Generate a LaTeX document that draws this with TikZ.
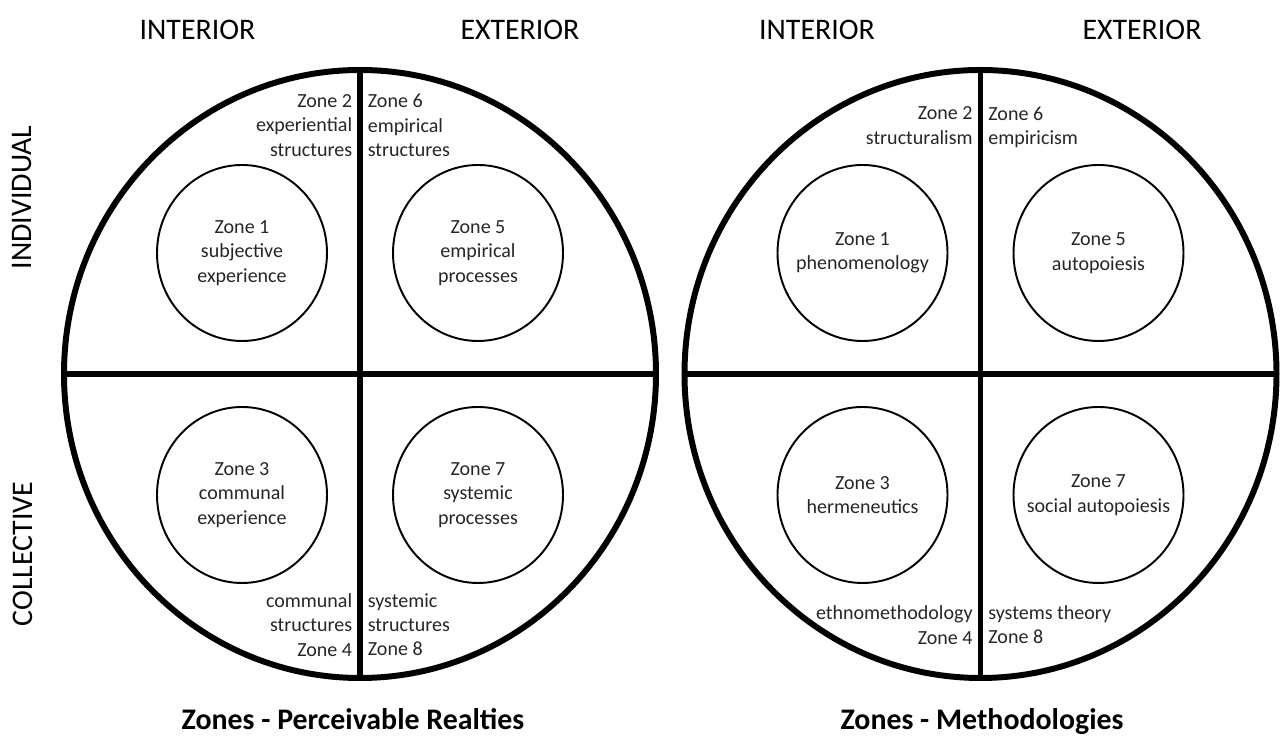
\documentclass[tikz,border=0pt]{standalone}
\usepackage{fontspec}
\setmainfont{Carlito}
\usepackage{tikz}
\usetikzlibrary{shapes.geometric}

\tikzset{
  disc/.style={draw,ellipse,line width=3.4pt,inner sep=0pt,outer sep=0pt,
    minimum width=11.84cm,minimum height=12.16cm},
  divider/.style={line width=3.4pt},
  zone/.style={draw,ellipse,line width=1.1pt,minimum width=3.4cm,minimum height=3.52cm,inner sep=0pt},
  zonetext/.style={inner sep=0pt,align=center,font=\fontsize{11.4}{13.9}\selectfont,text=black!85},
  side/.style={inner sep=0pt,font=\fontsize{11.4}{13.9}\selectfont,text=black!85},
  head/.style={inner sep=0pt,anchor=base,font=\fontsize{17}{20}\selectfont},
  caption/.style={inner sep=0pt,anchor=base,font=\fontsize{17}{20}\selectfont\bfseries},
}

\begin{document}
\begin{tikzpicture}
\useasboundingbox (0,0) rectangle (25.6,14.76);

% headings and axis labels
\node[head] (li) at (3.95,13.97) {INTERIOR};
\node[head] (le) at (10.4,13.97) {EXTERIOR};
\node[head] (ri) at (16.34,13.97) {INTERIOR};
\node[head] (re) at (22.84,13.97) {EXTERIOR};
\node[inner sep=0pt,rotate=90,font=\fontsize{17}{20}\selectfont] (indiv) at (0.45,10.81) {INDIVIDUAL};
\node[inner sep=0pt,rotate=90,font=\fontsize{17}{20}\selectfont] (coll) at (0.45,3.68) {COLLECTIVE};

% left diagram
\node[disc] (L) at (7.2,7.28) {};
\draw[divider] (L.north) -- (L.south);
\draw[divider] (L.west) -- (L.east);

\node[zone] (L1) at (4.84,9.70) {};
\node[zone] (L5) at (9.56,9.70) {};
\node[zone] (L3) at (4.84,4.86) {};
\node[zone] (L7) at (9.56,4.86) {};
\node[zonetext] (L1t) at (L1) {Zone 1\\subjective\\experience};
\node[zonetext] (L5t) at (L5) {Zone 5\\empirical\\processes};
\node[zonetext] (L3t) at (L3) {Zone 3\\communal\\experience};
\node[zonetext] (L7t) at (L7) {Zone 7\\systemic\\processes};

\node[side,anchor=north east,align=right] (L2) at (7.05,12.88) {Zone 2\\experiential\\structures};
\node[side,anchor=north west,align=left] (L6) at (7.35,12.88) {Zone 6\\empirical\\structures};
\node[side,anchor=south east,align=right] (L4) at (7.05,1.63) {communal\\structures\\Zone 4};
\node[side,anchor=south west,align=left] (L8) at (7.35,1.63) {systemic\\structures\\Zone 8};

\node[caption] (lcap) at (7.06,0.16) {Zones - Perceivable Realties};

% right diagram
\node[disc] (R) at (19.61,7.28) {};
\draw[divider] (R.north) -- (R.south);
\draw[divider] (R.west) -- (R.east);

\node[zone] (R1) at (17.25,9.70) {};
\node[zone] (R5) at (21.97,9.70) {};
\node[zone] (R3) at (17.25,4.86) {};
\node[zone] (R7) at (21.97,4.86) {};
\node[zonetext] (R1t) at (R1) {Zone 1\\phenomenology};
\node[zonetext] (R5t) at (R5) {Zone 5\\autopoiesis};
\node[zonetext] (R3t) at (R3) {Zone 3\\hermeneutics};
\node[zonetext] (R7t) at (R7) {Zone 7\\social autopoiesis};

\node[side,anchor=north east,align=right] (R2) at (19.46,12.63) {Zone 2\\structuralism};
\node[side,anchor=north west,align=left] (R6) at (19.76,12.63) {Zone 6\\empiricism};
\node[side,anchor=south east,align=right] (R4) at (19.46,1.87) {ethnomethodology\\Zone 4};
\node[side,anchor=south west,align=left] (R8) at (19.76,1.87) {systems theory\\Zone 8};

\node[caption] (rcap) at (19.64,0.16) {Zones - Methodologies};
\end{tikzpicture}
\end{document}
